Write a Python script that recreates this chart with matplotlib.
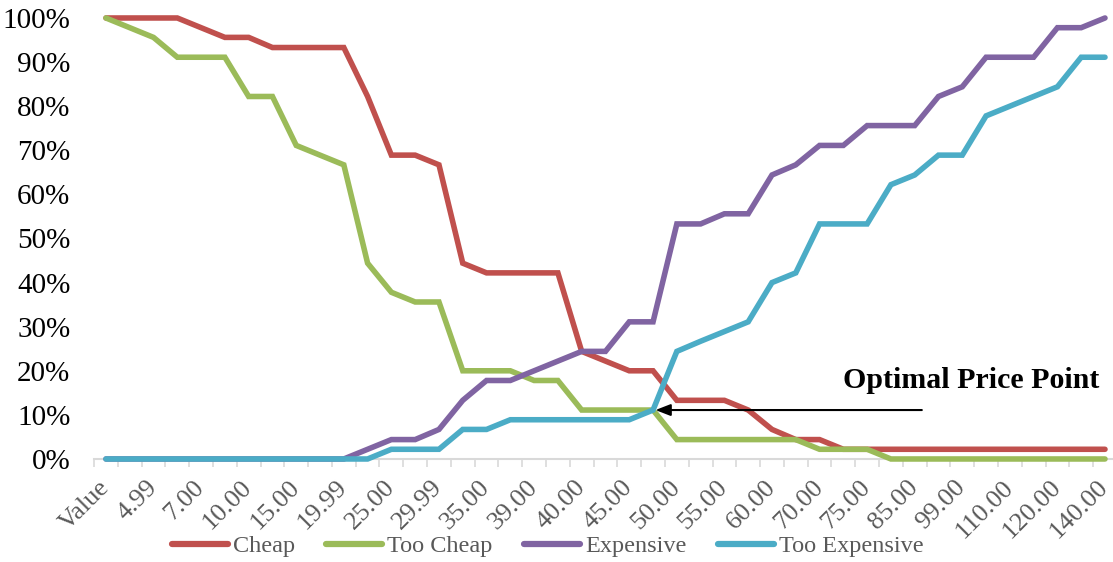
import numpy as np
import matplotlib.pyplot as plt

plt.rcParams['font.family'] = ['Liberation Serif', 'DejaVu Serif']

# Price points asked in the survey (only every second one is labelled)
prices = ['Value', '2.99', '4.99', '5.99', '7.00', '9.99', '10.00', '12.00', '15.00',
          '18.00', '19.99', '20.00', '25.00', '29.00', '29.99', '30.00', '35.00',
          '38.00', '39.00', '39.99', '40.00', '44.00', '45.00', '49.00', '50.00',
          '54.00', '55.00', '59.00', '60.00', '65.00', '70.00', '74.00', '75.00',
          '80.00', '85.00', '90.00', '99.00', '100.00', '110.00', '115.00',
          '120.00', '130.00', '140.00']

# Cumulative share of respondents (n = 45), in %
cheap = [100, 100, 100, 100, 97.8, 95.6, 95.6, 93.3, 93.3, 93.3, 93.3, 82.2, 68.9,
         68.9, 66.7, 44.4, 42.2, 42.2, 42.2, 42.2, 24.4, 22.2, 20.0, 20.0, 13.3,
         13.3, 13.3, 11.1, 6.7, 4.4, 4.4, 2.2, 2.2, 2.2, 2.2, 2.2, 2.2, 2.2, 2.2,
         2.2, 2.2, 2.2, 2.2]
too_cheap = [100, 97.8, 95.6, 91.1, 91.1, 91.1, 82.2, 82.2, 71.1, 68.9, 66.7, 44.4,
             37.8, 35.6, 35.6, 20.0, 20.0, 20.0, 17.8, 17.8, 11.1, 11.1, 11.1, 11.1,
             4.4, 4.4, 4.4, 4.4, 4.4, 4.4, 2.2, 2.2, 2.2, 0, 0, 0, 0, 0, 0, 0, 0, 0, 0]
expensive = [0, 0, 0, 0, 0, 0, 0, 0, 0, 0, 0, 2.2, 4.4, 4.4, 6.7, 13.3, 17.8, 17.8,
             20.0, 22.2, 24.4, 24.4, 31.1, 31.1, 53.3, 53.3, 55.6, 55.6, 64.4, 66.7,
             71.1, 71.1, 75.6, 75.6, 75.6, 82.2, 84.4, 91.1, 91.1, 91.1, 97.8, 97.8,
             100]
too_expensive = [0, 0, 0, 0, 0, 0, 0, 0, 0, 0, 0, 0, 2.2, 2.2, 2.2, 6.7, 6.7, 8.9,
                 8.9, 8.9, 8.9, 8.9, 8.9, 11.1, 24.4, 26.7, 28.9, 31.1, 40.0, 42.2,
                 53.3, 53.3, 53.3, 62.2, 64.4, 68.9, 68.9, 77.8, 80.0, 82.2, 84.4,
                 91.1, 91.1]

series = [('Cheap', cheap, '#C0504D'),
          ('Too Cheap', too_cheap, '#9BBB59'),
          ('Expensive', expensive, '#8064A2'),
          ('Too Expensive', too_expensive, '#4BACC6')]

opp_index = 23  # Too Cheap crosses Too Expensive here

fig = plt.figure(figsize=(11.13, 5.62), dpi=100)
ax = fig.add_axes([0.0845, 0.1833, 0.919, 0.7847])

x = np.arange(len(prices))
for name, vals, col in series:
    ax.plot(x, np.array(vals) / 100, color=col, lw=4.0, label=name,
            solid_capstyle='round', solid_joinstyle='miter', clip_on=False)

ax.set_xlim(-0.5, len(prices) - 0.5)
ax.set_ylim(0, 1)
ax.set_yticks(np.arange(0, 1.01, 0.1))
ax.set_yticklabels([f'{int(round(v * 100))}%' for v in np.arange(0, 1.01, 0.1)],
                   fontsize=21, color='black')
ax.tick_params(axis='y', length=0, pad=17)

# category ticks sit between the points, labels on every second one
ax.set_xticks(np.arange(-0.5, len(prices), 1), minor=True)
ax.set_xticks(x[::2])
ax.set_xticklabels(prices[::2], rotation=45, ha='right', va='center',
                   rotation_mode='anchor', fontsize=19, color='#595959')
ax.tick_params(axis='x', which='major', length=0, pad=18)
ax.tick_params(axis='x', which='minor', length=6, color='#D9D9D9', width=1.2)

for s in ['top', 'right', 'left']:
    ax.spines[s].set_visible(False)
ax.spines['bottom'].set_color('#D9D9D9')
ax.spines['bottom'].set_linewidth(1.5)
ax.spines['bottom'].set_zorder(0)

# optimal price point arrow
y_opp = too_cheap[opp_index] / 100
ax.annotate('', xy=(opp_index + 0.1, y_opp), xytext=(opp_index + 11.3, y_opp),
            arrowprops=dict(arrowstyle='-|>,head_length=0.9,head_width=0.35',
                            color='black', lw=1.5, shrinkA=0, shrinkB=0))
ax.text(36.36, 0.177, 'Optimal Price Point', fontsize=21.5, fontweight='bold',
        ha='center', va='center', color='black')

leg = fig.legend(loc='center', bbox_to_anchor=(0.492, 0.028), ncol=4, frameon=False,
                 fontsize=17.5, handlelength=2.3, handletextpad=0.2, columnspacing=1.3)
for t in leg.get_texts():
    t.set_color('#595959')
for h in leg.get_lines():
    h.set_linewidth(4.5)

fig.savefig('out.png', dpi=100)
